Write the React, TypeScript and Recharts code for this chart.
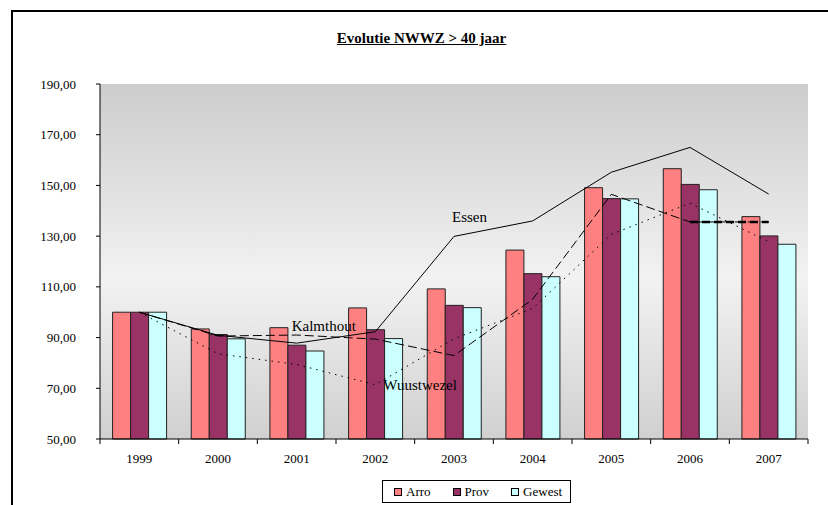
import React from "react"
import { ComposedChart, Bar, Line, XAxis, YAxis, CartesianGrid, Legend, LabelList } from "recharts"

const years = ["1999", "2000", "2001", "2002", "2003", "2004", "2005", "2006", "2007"]
const arro = [100, 93.4, 93.9, 101.7, 109.2, 124.5, 149.1, 156.6, 137.7]
const prov = [100, 91.2, 87.0, 93.1, 102.7, 115.2, 144.8, 150.4, 130.1]
const gewest = [100, 89.5, 84.7, 89.6, 101.8, 114.0, 144.7, 148.3, 126.8]
const essen = [100, 90.9, 87.8, 92.3, 129.9, 136.0, 155.2, 165.0, 146.6]
const kalmthout = [100, 90.6, 91.0, 89.4, 82.9, 105.1, 146.5, 135.6, 135.6]
const wuustwezel = [100, 83.6, 79.4, 71.4, 89.5, 101.5, 130.7, 143.0, 127.8]
const yTicks = [50, 70, 90, 110, 130, 150, 170, 190]
const title = "Evolutie NWWZ > 40 jaar"

const FONT = "'Liberation Serif', 'Times New Roman', serif"

const data = years.map((year, i) => ({
    year,
    arro: arro[i],
    prov: prov[i],
    gewest: gewest[i],
    essen: essen[i],
    kalmthout: kalmthout[i],
    wuustwezel: wuustwezel[i],
}))

// bar series (legend uses these)
const barSeries = [
    { key: "arro", name: "Arro", color: "#FF8080" },
    { key: "prov", name: "Prov", color: "#993366" },
    { key: "gewest", name: "Gewest", color: "#CCFFFF" },
]

// municipality lines, labelled in the plot itself
const lineSeries = [
    { key: "essen", name: "Essen", dash: undefined, labelAt: 4, dx: -2, dy: -14 },
    { key: "kalmthout", name: "Kalmthout", dash: "9 4", labelAt: 2, dx: -5, dy: -4 },
    { key: "wuustwezel", name: "Wuustwezel", dash: "1.5 5", labelAt: 3, dx: 8, dy: 5 },
]

const fmt = (v: number) => v.toFixed(2).replace(".", ",")

const YearTick = (props: any) => {
    const { x, y, payload, index, visibleTicksCount, width } = props
    const half = payload.offset ?? width / visibleTicksCount / 2
    return (
        <g>
            <line x1={x - half} x2={x - half} y1={y} y2={y + 5} stroke="#000" />
            {index === visibleTicksCount - 1 && (
                <line x1={x + half} x2={x + half} y1={y} y2={y + 5} stroke="#000" />
            )}
            <text x={x} y={y + 24} textAnchor="middle" fontSize={13} fontFamily={FONT} fill="#000">
                {payload.value}
            </text>
        </g>
    )
}

const lineLabel = (name: string, at: number, dx: number, dy: number) => (props: any) => {
    if (props.index !== at) return null
    const px = props.viewBox?.x ?? props.x
    const py = props.viewBox?.y ?? props.y
    return (
        <text x={px + dx} y={py + dy} fontSize={15} fontFamily={FONT} fill="#000">
            {name}
        </text>
    )
}

const renderLegend = () => (
    <div
        style={{
            boxSizing: "border-box",
            width: 189,
            height: 23,
            border: "1px solid #000",
            background: "#fff",
            display: "flex",
            alignItems: "center",
            paddingLeft: 11,
            fontFamily: FONT,
            fontSize: 13,
            color: "#000",
        }}
    >
        {barSeries.map((s) => (
            <div key={s.key} style={{ display: "flex", alignItems: "center", marginRight: 22 }}>
                <span
                    style={{
                        display: "inline-block",
                        boxSizing: "border-box",
                        width: 8,
                        height: 8,
                        background: s.color,
                        border: "1px solid #000",
                        marginRight: 4,
                    }}
                />
                <span>{s.name}</span>
            </div>
        ))}
    </div>
)

export default function App() {
    return (
        <div style={{ position: "absolute", left: 0, top: 0, width: 828, height: 505, overflow: "hidden", background: "#fff" }}>
            {/* outer frame, right and bottom edges fall outside the picture */}
            <div
                style={{
                    position: "absolute",
                    left: 11,
                    top: 10,
                    width: 900,
                    height: 600,
                    borderTop: "2px solid #000",
                    borderLeft: "2px solid #000",
                }}
            />
            <div
                style={{
                    position: "absolute",
                    left: 0,
                    width: 843,
                    top: 30,
                    textAlign: "center",
                    fontFamily: FONT,
                    fontSize: 15,
                    lineHeight: "17px",
                    fontWeight: "bold",
                    textDecoration: "underline",
                    color: "#000",
                }}
            >
                {title}
            </div>
            <div style={{ position: "absolute", left: 0, top: 0 }}>
                <ComposedChart
                    width={828}
                    height={505}
                    data={data}
                    margin={{ top: 84, right: 20, left: 40, bottom: 36 }}
                    barCategoryGap="16%"
                    barGap={0}
                >
                    <defs>
                        <linearGradient id="plotBg" x1="0" y1="0" x2="0" y2="1">
                            <stop offset="0%" stopColor="#cdcdcd" />
                            <stop offset="55%" stopColor="#f2f2f2" />
                            <stop offset="100%" stopColor="#d0d0d0" />
                        </linearGradient>
                    </defs>
                    <CartesianGrid horizontal={false} vertical={false} fill="url(#plotBg)" />
                    <XAxis
                        dataKey="year"
                        height={30}
                        axisLine={{ stroke: "#000" }}
                        tickLine={false}
                        tickSize={0}
                        tickMargin={0}
                        interval={0}
                        tick={<YearTick />}
                    />
                    <XAxis
                        xAxisId="top"
                        dataKey="year"
                        orientation="top"
                        height={0}
                        tick={false}
                        tickLine={false}
                        axisLine={{ stroke: "#a0a0a0" }}
                    />
                    <YAxis
                        width={60}
                        domain={[50, 190]}
                        ticks={yTicks}
                        interval={0}
                        tickFormatter={fmt}
                        axisLine={{ stroke: "#000" }}
                        tickLine={{ stroke: "#000" }}
                        tickSize={4}
                        tickMargin={20}
                        tick={{ fill: "#000", fontSize: 13, fontFamily: FONT }}
                    />
                    <YAxis
                        yAxisId="right"
                        orientation="right"
                        width={0}
                        domain={[50, 190]}
                        tick={false}
                        tickLine={false}
                        axisLine={{ stroke: "#a0a0a0" }}
                    />
                    <Legend
                        verticalAlign="middle"
                        align="center"
                        layout="horizontal"
                        wrapperStyle={{ left: 382, top: 480, width: 189, height: 23 }}
                        content={renderLegend}
                    />
                    {barSeries.map((s) => (
                        <Bar
                            key={s.key}
                            dataKey={s.key}
                            name={s.name}
                            fill={s.color}
                            stroke="#222"
                            strokeWidth={1}
                            isAnimationActive={false}
                        />
                    ))}
                    {lineSeries.map((s) => (
                        <Line
                            key={s.key}
                            dataKey={s.key}
                            name={s.name}
                            type="linear"
                            stroke="#000"
                            strokeWidth={1}
                            strokeDasharray={s.dash}
                            dot={false}
                            activeDot={false}
                            legendType="none"
                            isAnimationActive={false}
                        >
                            <LabelList dataKey={s.key} content={lineLabel(s.name, s.labelAt, s.dx, s.dy)} />
                        </Line>
                    ))}
                    {/* last Kalmthout stretch is drawn heavier in the original */}
                    <Line
                        dataKey={(d: any) => (Number(d.year) >= 2006 ? d.kalmthout : null)}
                        type="linear"
                        stroke="#000"
                        strokeWidth={2.5}
                        strokeDasharray="8 4"
                        dot={false}
                        activeDot={false}
                        legendType="none"
                        isAnimationActive={false}
                    />
                </ComposedChart>
            </div>
        </div>
    )
}
